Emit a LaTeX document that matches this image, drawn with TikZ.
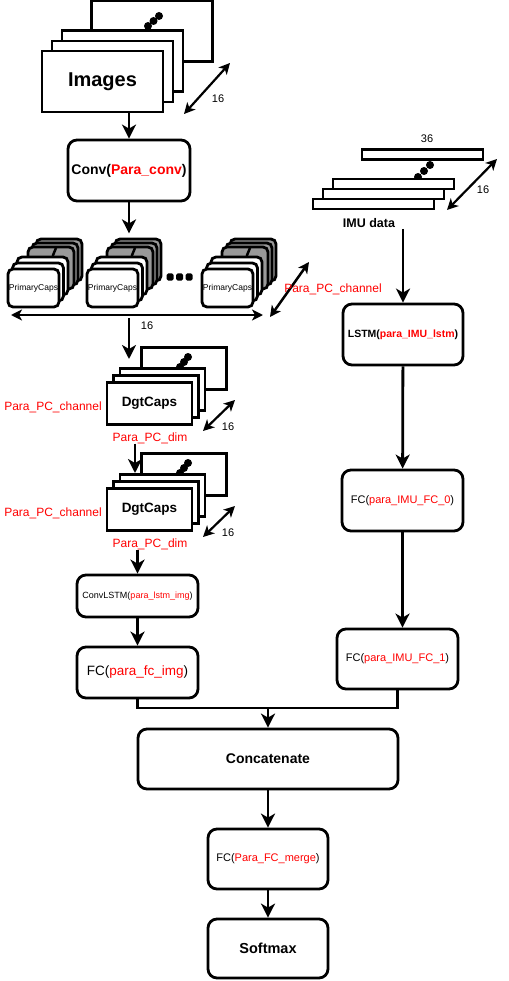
\documentclass[tikz,border=0pt]{standalone}
\usepackage{fontspec}
\setmainfont{Liberation Sans}
\usepackage{xcolor}
\definecolor{pred}{RGB}{255,0,0}
\definecolor{pgrey}{RGB}{153,153,153}
\usetikzlibrary{arrows.meta}
\tikzset{
  box/.style={draw,line width=2.8pt,rounded corners=9pt,fill=white,inner sep=0pt,align=center},
  sheet/.style={draw,line width=2.8pt,fill=white,inner sep=0pt,minimum width=121pt,minimum height=61pt},
  dgsheet/.style={sheet,minimum width=85pt,minimum height=42pt},
  imusheet/.style={sheet,line width=2.5pt,minimum height=10pt},
  pcgrey/.style={draw,line width=2.8pt,rounded corners=5pt,fill=pgrey,inner sep=0pt,minimum width=46pt,minimum height=42pt},
  pcwhite/.style={draw,line width=2.8pt,rounded corners=5pt,fill=white,inner sep=0pt,minimum width=51pt,minimum height=38pt},
  flow/.style={line width=2.8pt,-{Stealth[length=14pt,width=14pt,inset=4pt]}},
  span/.style={line width=2.2pt,{Stealth[length=11pt,width=11pt,inset=3pt]}-{Stealth[length=11pt,width=11pt,inset=3pt]}},
  lbl/.style={inner sep=0pt,font=\fs{11}},
  parlbl/.style={inner sep=0pt,text=pred,font=\fs{12}}
}
\newcommand{\fs}[1]{\fontsize{#1}{#1}\selectfont}
\newcommand{\rtxt}[1]{\textcolor{pred}{#1}}
\newcommand{\chain}[3]{\foreach \d in {0,1,2} \fill ($(#1)+(\d*#2,\d*#3)$) circle (4pt);}
\newcommand{\pcaps}[2]{
  \begin{scope}[shift={(#2,0)}]
    \node[pcgrey] (#1g3) at (59,260) {};
    \node[pcgrey] (#1g2) at (55,264) {};
    \node[pcgrey] (#1g1) at (51,268) {};
    \draw[line width=2.5pt] (52.7,256) -- (56,248);
    \node[pcwhite] (#1w3) at (42.5,276) {};
    \node[pcwhite] (#1w2) at (38,282) {};
    \node[pcwhite,font=\fs{8.5}] (#1) at (33.5,288) {PrimaryCaps};
  \end{scope}}
\newcommand{\dgtstack}[2]{
  \begin{scope}[shift={(0,#2)}]
    \node[dgsheet] (#1b) at (184,368.5) {};
    \chain{180,367}{4}{-5}
    \node[dgsheet] (#1m2) at (162.5,389.5) {};
    \node[dgsheet] (#1m1) at (156,396.5) {};
    \node[dgsheet,font=\fs{13.5}\bfseries] (#1) at (149.5,403.5) {DgtCaps};
    \coordinate (#1s1) at (203,431);
    \coordinate (#1s2) at (235,400);
    \draw[span] (#1s1) -- (#1s2);
    \node[lbl] (#1n) at (228,427) {16};
    \node[parlbl] (#1ch) at (53,407) {Para\_PC\_channel};
    \node[parlbl] (#1dim) at (150,438) {Para\_PC\_dim};
  \end{scope}}
\usetikzlibrary{calc}

\begin{document}
\begin{tikzpicture}[x=1pt,y=-1pt]
  \useasboundingbox (0,0) rectangle (508,981);
  % image input
  \node[sheet] (imgb) at (152,31) {};
  \chain{148,26}{5.5}{-5}
  \node[sheet] (imga) at (122.5,61) {};
  \node[sheet] (imgm) at (112.5,71.5) {};
  \node[sheet,font=\fs{20}\bfseries] (img) at (102.5,81.5) {Images};
  \coordinate (imgs1) at (184,114);
  \coordinate (imgs2) at (230,63);
  \draw[span] (imgs1) -- (imgs2);
  \node[lbl] (imgn) at (218,99) {16};
  \node[box,minimum width=122pt,minimum height=61pt,font=\fs{14}\bfseries] (conv) at (129,170.5) {Conv(\rtxt{Para\_conv})};
  \draw[flow] (img.south -| conv.north) -- (conv.north);
  % primary caps
  \pcaps{pca}{0}
  \pcaps{pcb}{79}
  \pcaps{pcc}{194}
  \foreach \x in {170,179.5,189} \fill[rounded corners=1.5pt] (\x-3.5,273.5) rectangle (\x+3.5,280.5);
  \draw[flow] (conv.south) -- ++(0,31);
  \coordinate (pcl) at (11,315);
  \coordinate (pcr) at (263,315);
  \draw[span,line width=2.8pt] (pcl) -- (pcr);
  \node[lbl] (pcn) at (147,326) {16};
  \coordinate (pcs1) at (270,317);
  \coordinate (pcs2) at (309,262);
  \draw[span,line width=2.5pt] (pcs1) -- (pcs2);
  \node[parlbl] (pcch) at (333,289) {Para\_PC\_channel};
  % digit caps
  \dgtstack{dga}{0}
  \dgtstack{dgb}{106}
  \coordinate (capsout) at (129,318);
  \coordinate (dgain) at (129,359);
  \draw[flow] (capsout) -- (dgain);
  \coordinate (dgbin) at (135,473);
  \draw[flow] (dgadim.south -| dgbin) -- (dgbin);
  \node[box,minimum width=121pt,minimum height=42pt,font=\fs{9}] (clstm) at (137.5,596) {ConvLSTM(\rtxt{para\_lstm\_img})};
  \draw[flow] (dgbdim.south -| clstm.north) -- (clstm.north);
  \node[box,minimum width=121pt,minimum height=51pt,font=\fs{13.5}] (fcimg) at (137.5,672.5) {FC(\rtxt{para\_fc\_img})};
  \draw[flow] (clstm) -- (fcimg);
  % imu branch
  \node[imusheet] (imut) at (422.5,154.5) {};
  \chain{418,177}{6}{-6}
  \node[imusheet] (imuc) at (393.5,184) {};
  \node[imusheet] (imub) at (383.5,194) {};
  \node[imusheet] (imua) at (373.5,204) {};
  \node[lbl] (imuw) at (427,139) {36};
  \coordinate (imus1) at (447,210);
  \coordinate (imus2) at (497,159);
  \draw[span] (imus1) -- (imus2);
  \node[lbl] (imun) at (483,190) {16};
  \node[inner sep=1pt,font=\fs{12.5}\bfseries] (imu) at (369,223) {IMU data};
  \node[box,minimum width=120pt,minimum height=61pt,font=\fs{10.5}\bfseries] (lstm) at (403,334.5) {LSTM(\rtxt{para\_IMU\_lstm})};
  \draw[flow] (imu.south -| lstm.north) -- (lstm.north);
  \node[box,minimum width=121pt,minimum height=61pt,font=\fs{11}] (fc0) at (402.5,500.5) {FC(\rtxt{para\_IMU\_FC\_0})};
  \draw[flow] (lstm) -- (fc0);
  \node[box,minimum width=121pt,minimum height=60pt,font=\fs{11}] (fc1) at (397.5,659) {FC(\rtxt{para\_IMU\_FC\_1})};
  \draw[flow] (fc0.south) -- (fc0.south |- fc1.north);
  % merge
  \node[box,minimum width=260pt,minimum height=60pt,font=\fs{14}\bfseries] (cat) at (268,759) {Concatenate};
  \coordinate (join) at (268,708);
  \draw[line width=2.8pt] (fcimg.south) |- (join) -| (fc1.south);
  \draw[flow] (join) -- (cat.north);
  \node[box,minimum width=120pt,minimum height=60pt,font=\fs{11}] (fcm) at (268,859) {FC(\rtxt{Para\_FC\_merge})};
  \draw[flow] (cat) -- (fcm);
  \node[box,minimum width=120pt,minimum height=59pt,font=\fs{14.5}\bfseries] (soft) at (268,948.5) {Softmax};
  \draw[flow] (fcm) -- (soft);
\end{tikzpicture}
\end{document}
